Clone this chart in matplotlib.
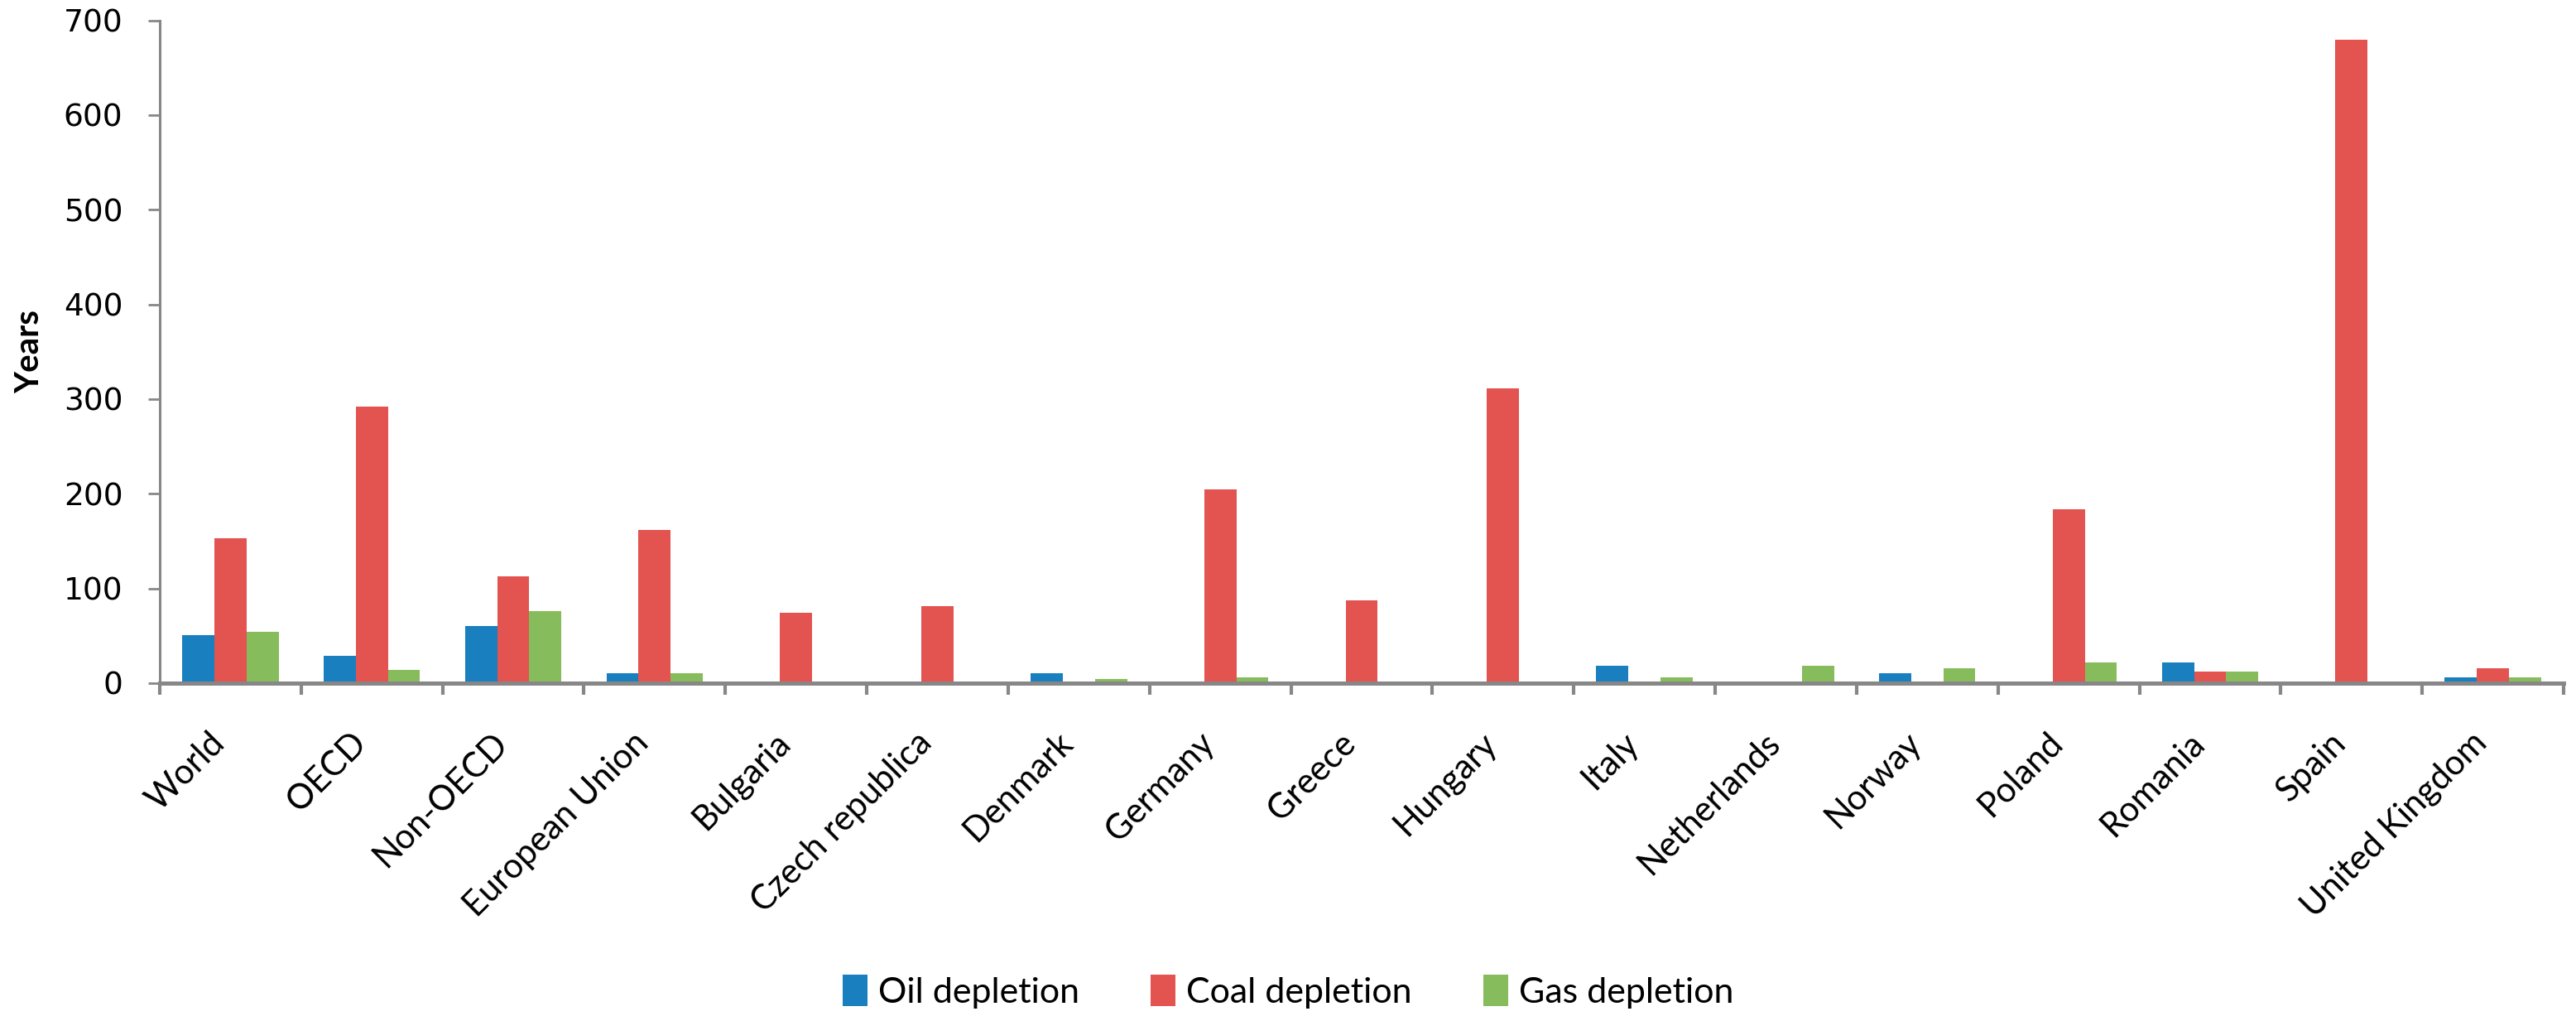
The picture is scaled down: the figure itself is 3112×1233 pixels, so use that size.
import numpy as np
import matplotlib
matplotlib.use("Agg")
import matplotlib.pyplot as plt

# data (years)
regions = ["World", "OECD", "Non-OECD", "European Union", "Bulgaria", "Czech republica",
           "Denmark", "Germany", "Greece", "Hungary", "Italy", "Netherlands", "Norway",
           "Poland", "Romania", "Spain", "United Kingdom"]
oil = [51, 29, 60, 10, 0, 0, 10, 0, 0, 0, 18, 0, 10, 0, 22, 0, 6]
coal = [153, 292, 113, 162, 74, 81, 0, 205, 87, 311, 0, 0, 0, 184, 12, 680, 16]
gas = [54, 14, 76, 10, 0, 0, 4, 6, 0, 0, 6, 18, 16, 22, 12, 0, 6]
series_names = ["Oil depletion", "Coal depletion", "Gas depletion"]

colors = ["#1a7fbe", "#e35350", "#86bc5b"]
grey = "#878787"

fig = plt.figure(figsize=(31.12, 12.33), dpi=100)
ax = fig.add_axes([0.062, 0.331, 0.9332, 0.649])

x = np.arange(len(regions))
w = 0.227
for i, (vals, name) in enumerate(zip([oil, coal, gas], series_names)):
    ax.bar(x + (i - 1) * w, vals, width=w, color=colors[i], label=name, linewidth=0)

ax.set_xlim(-0.5, len(regions) - 0.5)
ax.set_ylim(0, 700)
ax.set_yticks(range(0, 701, 100))
# category separators as ticks, labels at centres
ax.set_xticks(np.arange(len(regions) + 1) - 0.5, minor=True)
ax.set_xticks(x)
ax.set_xticklabels(regions, rotation=45, ha="right", fontsize=30, family="Lato")
ax.tick_params(axis="x", which="major", length=0, pad=38)
ax.tick_params(axis="x", which="minor", length=10, width=3, color=grey)
ax.tick_params(axis="y", length=10, width=2, color=grey, pad=22, labelsize=27)

for s in ["top", "right"]:
    ax.spines[s].set_visible(False)
ax.spines["left"].set_color(grey)
ax.spines["left"].set_linewidth(2.2)
ax.spines["bottom"].set_color(grey)
ax.spines["bottom"].set_linewidth(3.6)

ax.set_ylabel("Years", fontsize=29, fontweight="bold", family="Lato", labelpad=16)

fig.legend(loc="center", bbox_to_anchor=(0.5, 0.029), ncol=3, frameon=False,
           prop={"family": "Lato", "size": 31}, handlelength=0.7, handleheight=1.0,
           handletextpad=0.3, columnspacing=2.0)

fig.savefig("out.png", dpi=100)
